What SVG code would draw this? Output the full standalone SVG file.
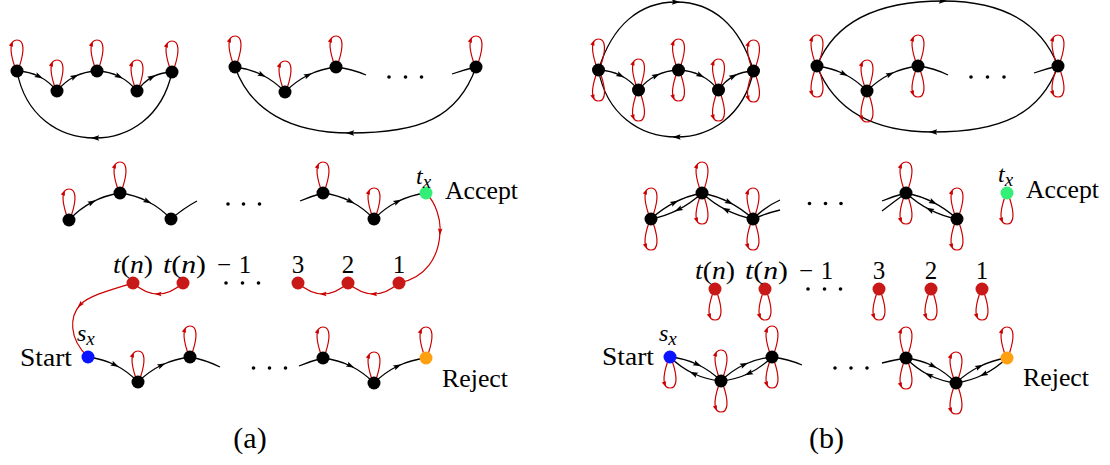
<svg xmlns="http://www.w3.org/2000/svg" xmlns:xlink="http://www.w3.org/1999/xlink" width="1110" height="465" viewBox="0 0 1110 465">
<style>
.e{fill:none;stroke:#000;stroke-width:1.3;marker-mid:url(#ab)}
.s{fill:none;stroke:#000;stroke-width:1.3}
.r{fill:none;stroke:#cc0000;stroke-width:1.2;marker-mid:url(#ar)}
.lp{fill:none;stroke:#cc0000;stroke-width:1.2}
.la{fill:#cc0000}
.n{fill:#000}
.rn{fill:#c81818}
.d{fill:#000}
text{font-family:"Liberation Serif","Times New Roman",serif;fill:#000}
.lb{font-size:26px}
.mi{font-style:italic}
.nm{font-size:25px}
.mt{font-size:24px;font-style:italic}
.sb{font-size:19px}
</style>
<defs>
<marker id="ab" viewBox="-5 -5 10 10" refX="0" refY="0" markerWidth="10" markerHeight="10" markerUnits="userSpaceOnUse" orient="auto"><path d="M-4.2,-2.7 L4.2,0 L-4.2,2.7 L-2.7,0 Z" fill="#000"/></marker>
<marker id="ar" viewBox="-5 -5 10 10" refX="0" refY="0" markerWidth="10" markerHeight="10" markerUnits="userSpaceOnUse" orient="auto"><path d="M-3.6,-2.3 L3.6,0 L-3.6,2.3 L-2.4,0 Z" fill="#cc0000"/></marker>
<g id="lu"><path class="lp" d="M-2.5,-5 C-7.5,-20 -7.5,-31 0,-31 C7.5,-31 7.5,-20 2.5,-5"/><polygon class="la" points="-4.4,-29.8 -8.2,-25.4 -4,-24.2"/></g>
<g id="ld"><use href="#lu" transform="scale(1,-1)"/></g>
</defs>

<g id="connectors">
<!-- (a) row 1 left -->
<path class="e" d="M17,71 Q29.2,71.5 39.2,76.5 Q49.2,81.5 57,91"/>
<path class="e" d="M57,91 Q64.8,81.5 74.8,76.5 Q84.8,71.5 97,71"/>
<path class="e" d="M97,71 Q109.2,71.5 119.2,76.5 Q129.2,81.5 137,91"/>
<path class="e" d="M137,91 Q143.4,81.9 152.1,77.1 Q160.9,72.4 172,72"/>
<path class="e" d="M172,72 C162,118 128,138 95,138 C58,138 25,115 17,71"/>
<!-- (a) row 1 right -->
<path class="e" d="M235,67 Q249.7,68.8 262.2,75 Q274.7,81.3 285,92"/>
<path class="e" d="M285,92 Q295.6,81.3 308.3,75 Q321,68.8 336,67"/>
<path class="s" d="M336,67 Q352,69 366,75"/>
<path class="s" d="M452,74 Q465,69.5 476,67"/>
<path class="e" d="M476,67 C458,118 420,133 350,133 C290,133 250,110 235,67"/>
<!-- (a) row 2 -->
<path class="e" d="M69,220 Q79.4,208.8 92.2,202.1 Q104.9,195.3 120,193"/>
<path class="e" d="M120,193 Q135,195 147.8,201.5 Q160.5,208 171,219"/>
<path class="s" d="M171,219 Q184,208 197,201"/>
<path class="s" d="M300,201 Q312,196 323,193"/>
<path class="e" d="M323,193 Q338,195 350.8,201.5 Q363.5,208 374,219"/>
<path class="e" d="M374,219 Q384.8,208 397.8,201.5 Q410.8,195 426,193"/>
<!-- (a) red chain -->
<path class="r" d="M426,193 C436,203 441,220 440,232 C439,258 425,278 399,283"/>
<path class="r" d="M399,283 Q386.3,294 373.5,294 Q360.8,294 348,283"/>
<path class="r" d="M348,283 Q335.5,294 323,294 Q310.5,294 298,283"/>
<path class="r" d="M183,283 Q170.5,294 158,294 Q145.5,294 133,283"/>
<path class="r" d="M133,283 C110,290 88,296 80,305 C70,316 68,338 88,357"/>
<!-- (a) bottom row -->
<path class="e" d="M88,357 Q102.7,358.8 115.2,365 Q127.7,371.3 138,382"/>
<path class="e" d="M138,382 Q148.8,371.3 161.8,365 Q174.8,358.8 190,357"/>
<path class="s" d="M190,357 Q206,360 220,367"/>
<path class="s" d="M299,366 Q311,361 323,358"/>
<path class="e" d="M323,358 Q338,359.8 350.7,366 Q363.5,372.3 374,383"/>
<path class="e" d="M374,383 Q384.8,372.3 397.8,366 Q410.8,359.8 426,358"/>
<!-- (a) loops -->
<use href="#lu" x="17" y="71"/><use href="#lu" x="57" y="91"/><use href="#lu" x="97" y="71"/><use href="#lu" x="137" y="91"/><use href="#lu" x="172" y="72"/>
<use href="#lu" x="235" y="67"/><use href="#lu" x="285" y="92"/><use href="#lu" x="336" y="67"/><use href="#lu" x="476" y="67"/>
<use href="#lu" x="69" y="220"/><use href="#lu" x="120" y="193"/><use href="#lu" x="323" y="193"/><use href="#lu" x="374" y="219"/>
<use href="#lu" x="138" y="382"/><use href="#lu" x="190" y="357"/><use href="#lu" x="323" y="358"/><use href="#lu" x="374" y="383"/><use href="#lu" x="426" y="358"/>

<!-- (b) row 1 left -->
<path class="e" d="M598.5,70 Q610.7,70.5 620.7,75.5 Q630.7,80.5 638.5,90"/>
<path class="e" d="M638.5,90 Q646.3,80.5 656.3,75.5 Q666.3,70.5 678.5,70"/>
<path class="e" d="M678.5,70 Q690.7,70.5 700.7,75.5 Q710.7,80.5 718.5,90"/>
<path class="e" d="M718.5,90 Q724.9,80.9 733.6,76.1 Q742.4,71.4 753.5,71"/>
<path class="e" d="M753.5,71 C743.5,117 709.5,137 676.5,137 C639.5,137 606.5,114 598.5,70"/>
<path class="e" d="M598.5,70 C612,25 640,2 676,2 C712,2 740,25 753.5,71"/>
<!-- (b) row 1 right -->
<path class="e" d="M817,66 Q831.7,67.8 844.2,74 Q856.7,80.3 867,91"/>
<path class="e" d="M867,91 Q877.6,80.3 890.3,74 Q903,67.8 918,66"/>
<path class="s" d="M918,66 Q934,68 948,75"/>
<path class="s" d="M1034,73 Q1047,68.5 1058,66"/>
<path class="e" d="M1058,66 C1040,115 1000,132 933,132 C870,132 833,107 817,66"/>
<path class="e" d="M817,66 C835,20 880,1 943,1 C1000,1 1040,20 1058,66"/>
<!-- (b) row 2 -->
<path class="e" d="M651,219 Q661.9,208.9 674.7,202.4 Q687.4,195.9 702,193"/>
<path class="e" d="M702,193 Q691.1,203.1 678.3,209.6 Q665.6,216.1 651,219"/>
<path class="e" d="M702,193 Q716.6,195.9 729.3,202.4 Q742.1,208.9 753,219"/>
<path class="e" d="M753,219 Q738.4,216.1 725.7,209.6 Q712.9,203.1 702,193"/>
<path class="s" d="M753,219 Q766,206 780,200"/>
<path class="s" d="M753,219 Q767,213 780,210"/>
<path class="s" d="M882,201 Q894,196 906,193"/>
<path class="s" d="M882,211 Q895,201 906,193"/>
<path class="e" d="M906,193 Q920.6,195.9 933.3,202.4 Q946.1,208.9 957,219"/>
<path class="e" d="M957,219 Q942.4,216.1 929.7,209.6 Q916.9,203.1 906,193"/>
<!-- (b) bottom row -->
<path class="e" d="M670,357 Q684.9,358.5 697.6,364.5 Q710.4,370.5 721,381"/>
<path class="e" d="M721,381 Q706.1,379.5 693.4,373.5 Q680.6,367.5 670,357"/>
<path class="e" d="M721,381 Q731.6,370.5 744.4,364.5 Q757.1,358.5 772,357"/>
<path class="e" d="M772,357 Q761.4,367.5 748.6,373.5 Q735.9,379.5 721,381"/>
<path class="s" d="M772,357 Q788,359 802,365"/>
<path class="s" d="M882,363 Q894,360 906,358"/>
<path class="e" d="M906,358 Q920.7,359.8 933.2,366 Q945.7,372.3 956,383"/>
<path class="e" d="M956,383 Q941.3,381.2 928.8,375 Q916.3,368.7 906,358"/>
<path class="e" d="M956,383 Q966.8,372.7 979.5,366.5 Q992.3,360.2 1007,358"/>
<path class="e" d="M1007,358 Q996.2,368.3 983.5,374.5 Q970.7,380.8 956,383"/>
<!-- (b) loops -->
<use href="#lu" x="598.5" y="70"/><use href="#ld" x="598.5" y="70"/>
<use href="#lu" x="638.5" y="90"/><use href="#ld" x="638.5" y="90"/>
<use href="#lu" x="678.5" y="70"/><use href="#ld" x="678.5" y="70"/>
<use href="#lu" x="718.5" y="90"/><use href="#ld" x="718.5" y="90"/>
<use href="#lu" x="753.5" y="71"/><use href="#ld" x="753.5" y="71"/>
<use href="#lu" x="817" y="66"/><use href="#ld" x="817" y="66"/>
<use href="#lu" x="867" y="91"/><use href="#ld" x="867" y="91"/>
<use href="#lu" x="918" y="66"/><use href="#ld" x="918" y="66"/>
<use href="#lu" x="1058" y="66"/><use href="#ld" x="1058" y="66"/>
<use href="#lu" x="651" y="219"/><use href="#ld" x="651" y="219"/>
<use href="#lu" x="702" y="193"/><use href="#ld" x="702" y="193"/>
<use href="#lu" x="753" y="219"/><use href="#ld" x="753" y="219"/>
<use href="#lu" x="906" y="193"/><use href="#ld" x="906" y="193"/>
<use href="#lu" x="957" y="219"/><use href="#ld" x="957" y="219"/>
<use href="#ld" x="1007" y="193"/>
<use href="#ld" x="715" y="289"/><use href="#ld" x="765" y="289"/><use href="#ld" x="879" y="289"/><use href="#ld" x="931" y="289"/><use href="#ld" x="982" y="289"/>
<use href="#ld" x="670" y="357"/>
<use href="#lu" x="721" y="381"/><use href="#ld" x="721" y="381"/>
<use href="#lu" x="772" y="357"/><use href="#ld" x="772" y="357"/>
<use href="#lu" x="906" y="358"/><use href="#ld" x="906" y="358"/>
<use href="#lu" x="956" y="383"/><use href="#ld" x="956" y="383"/>
<use href="#lu" x="1007" y="358"/>
</g>

<!-- panel (a) nodes -->
<g id="a-r1-n1"><circle class="n" cx="17" cy="71" r="6.5"/></g>
<g id="a-r1-n2"><circle class="n" cx="57" cy="91" r="6.5"/></g>
<g id="a-r1-n3"><circle class="n" cx="97" cy="71" r="6.5"/></g>
<g id="a-r1-n4"><circle class="n" cx="137" cy="91" r="6.5"/></g>
<g id="a-r1-n5"><circle class="n" cx="172" cy="72" r="6.5"/></g>
<g id="a-r1-m1"><circle class="n" cx="235" cy="67" r="6.5"/></g>
<g id="a-r1-m2"><circle class="n" cx="285" cy="92" r="6.5"/></g>
<g id="a-r1-m3"><circle class="n" cx="336" cy="67" r="6.5"/></g>
<g id="a-r1-m4"><circle class="n" cx="476" cy="67" r="6.5"/></g>
<g id="a-r1-dots"><circle class="d" cx="389" cy="77" r="1.8"/><circle class="d" cx="405.5" cy="77" r="1.8"/><circle class="d" cx="421.5" cy="77" r="1.8"/></g>
<g id="a-r2-n1"><circle class="n" cx="69" cy="220" r="6.5"/></g>
<g id="a-r2-n2"><circle class="n" cx="120" cy="193" r="6.5"/></g>
<g id="a-r2-n3"><circle class="n" cx="171" cy="219" r="6.5"/></g>
<g id="a-r2-n4"><circle class="n" cx="323" cy="193" r="6.5"/></g>
<g id="a-r2-n5"><circle class="n" cx="374" cy="219" r="6.5"/></g>
<g id="a-r2-dots"><circle class="d" cx="228" cy="204" r="1.8"/><circle class="d" cx="243.5" cy="204" r="1.8"/><circle class="d" cx="259.5" cy="204" r="1.8"/></g>
<g id="a-accept"><circle cx="426" cy="193" r="6.5" fill="#33ee77"/>
<text x="416" y="184" class="mt">t<tspan class="sb" dy="4">x</tspan></text>
<text x="445" y="199" class="lb" textLength="73" lengthAdjust="spacingAndGlyphs">Accept</text></g>
<g id="a-red-tn"><circle class="rn" cx="133" cy="283" r="6.5"/><text x="113" y="273" class="nm" textLength="40" lengthAdjust="spacingAndGlyphs"><tspan class="mi">t</tspan>(<tspan class="mi">n</tspan>)</text></g>
<g id="a-red-tn1"><circle class="rn" cx="183" cy="283" r="6.5"/><text x="163" y="273" class="nm" textLength="43" lengthAdjust="spacingAndGlyphs"><tspan class="mi">t</tspan>(<tspan class="mi">n</tspan>)</text><text x="224" y="273" class="nm" text-anchor="middle">−</text><text x="245" y="273" class="nm" text-anchor="middle">1</text></g>
<g id="a-red-dots"><circle class="d" cx="226" cy="283" r="1.8"/><circle class="d" cx="242.5" cy="283" r="1.8"/><circle class="d" cx="258.5" cy="283" r="1.8"/></g>
<g id="a-red-3"><circle class="rn" cx="298" cy="283" r="6.5"/><text x="298" y="273" class="nm" text-anchor="middle">3</text></g>
<g id="a-red-2"><circle class="rn" cx="348" cy="283" r="6.5"/><text x="348" y="273" class="nm" text-anchor="middle">2</text></g>
<g id="a-red-1"><circle class="rn" cx="399" cy="283" r="6.5"/><text x="399" y="273" class="nm" text-anchor="middle">1</text></g>
<g id="a-start"><circle cx="88" cy="357" r="6.5" fill="#0a14ff"/>
<text x="77" y="341" class="mt">s<tspan class="sb" dy="4">x</tspan></text>
<text x="20" y="366" class="lb" textLength="52" lengthAdjust="spacingAndGlyphs">Start</text></g>
<g id="a-r4-n1"><circle class="n" cx="138" cy="382" r="6.5"/></g>
<g id="a-r4-n2"><circle class="n" cx="190" cy="357" r="6.5"/></g>
<g id="a-r4-dots"><circle class="d" cx="253.5" cy="368" r="1.8"/><circle class="d" cx="269.5" cy="368" r="1.8"/><circle class="d" cx="285.5" cy="368" r="1.8"/></g>
<g id="a-r4-n3"><circle class="n" cx="323" cy="358" r="6.5"/></g>
<g id="a-r4-n4"><circle class="n" cx="374" cy="383" r="6.5"/></g>
<g id="a-reject"><circle cx="426" cy="358" r="6.5" fill="#ffa010"/>
<text x="442" y="387" class="lb" textLength="66" lengthAdjust="spacingAndGlyphs">Reject</text></g>
<g id="a-caption"><text x="250" y="448" font-size="30" text-anchor="middle">(a)</text></g>

<!-- panel (b) nodes -->
<g id="b-r1-n1"><circle class="n" cx="598.5" cy="70" r="6.5"/></g>
<g id="b-r1-n2"><circle class="n" cx="638.5" cy="90" r="6.5"/></g>
<g id="b-r1-n3"><circle class="n" cx="678.5" cy="70" r="6.5"/></g>
<g id="b-r1-n4"><circle class="n" cx="718.5" cy="90" r="6.5"/></g>
<g id="b-r1-n5"><circle class="n" cx="753.5" cy="71" r="6.5"/></g>
<g id="b-r1-m1"><circle class="n" cx="817" cy="66" r="6.5"/></g>
<g id="b-r1-m2"><circle class="n" cx="867" cy="91" r="6.5"/></g>
<g id="b-r1-m3"><circle class="n" cx="918" cy="66" r="6.5"/></g>
<g id="b-r1-m4"><circle class="n" cx="1058" cy="66" r="6.5"/></g>
<g id="b-r1-dots"><circle class="d" cx="971" cy="77" r="1.8"/><circle class="d" cx="987.5" cy="77" r="1.8"/><circle class="d" cx="1004" cy="77" r="1.8"/></g>
<g id="b-r2-n1"><circle class="n" cx="651" cy="219" r="6.5"/></g>
<g id="b-r2-n2"><circle class="n" cx="702" cy="193" r="6.5"/></g>
<g id="b-r2-n3"><circle class="n" cx="753" cy="219" r="6.5"/></g>
<g id="b-r2-n4"><circle class="n" cx="906" cy="193" r="6.5"/></g>
<g id="b-r2-n5"><circle class="n" cx="957" cy="219" r="6.5"/></g>
<g id="b-r2-dots"><circle class="d" cx="809.5" cy="203.5" r="1.8"/><circle class="d" cx="825.5" cy="203.5" r="1.8"/><circle class="d" cx="841" cy="203.5" r="1.8"/></g>
<g id="b-accept"><circle cx="1007" cy="193" r="6.5" fill="#33ee77"/>
<text x="998" y="182" class="mt">t<tspan class="sb" dy="4">x</tspan></text>
<text x="1026" y="198" class="lb" textLength="73" lengthAdjust="spacingAndGlyphs">Accept</text></g>
<g id="b-red-tn"><circle class="rn" cx="715" cy="289" r="6.5"/><text x="695" y="279" class="nm" textLength="40" lengthAdjust="spacingAndGlyphs"><tspan class="mi">t</tspan>(<tspan class="mi">n</tspan>)</text></g>
<g id="b-red-tn1"><circle class="rn" cx="765" cy="289" r="6.5"/><text x="745" y="279" class="nm" textLength="43" lengthAdjust="spacingAndGlyphs"><tspan class="mi">t</tspan>(<tspan class="mi">n</tspan>)</text><text x="806" y="279" class="nm" text-anchor="middle">−</text><text x="827" y="279" class="nm" text-anchor="middle">1</text></g>
<g id="b-red-dots"><circle class="d" cx="808" cy="289" r="1.8"/><circle class="d" cx="824.5" cy="289" r="1.8"/><circle class="d" cx="840.5" cy="289" r="1.8"/></g>
<g id="b-red-3"><circle class="rn" cx="879" cy="289" r="6.5"/><text x="879" y="279" class="nm" text-anchor="middle">3</text></g>
<g id="b-red-2"><circle class="rn" cx="931" cy="289" r="6.5"/><text x="931" y="279" class="nm" text-anchor="middle">2</text></g>
<g id="b-red-1"><circle class="rn" cx="982" cy="289" r="6.5"/><text x="982" y="279" class="nm" text-anchor="middle">1</text></g>
<g id="b-start"><circle cx="670" cy="357" r="6.5" fill="#0a14ff"/>
<text x="659" y="341" class="mt">s<tspan class="sb" dy="4">x</tspan></text>
<text x="602" y="365" class="lb" textLength="52" lengthAdjust="spacingAndGlyphs">Start</text></g>
<g id="b-r4-n1"><circle class="n" cx="721" cy="381" r="6.5"/></g>
<g id="b-r4-n2"><circle class="n" cx="772" cy="357" r="6.5"/></g>
<g id="b-r4-dots"><circle class="d" cx="835" cy="368" r="1.8"/><circle class="d" cx="851" cy="368" r="1.8"/><circle class="d" cx="867" cy="368" r="1.8"/></g>
<g id="b-r4-n3"><circle class="n" cx="906" cy="358" r="6.5"/></g>
<g id="b-r4-n4"><circle class="n" cx="956" cy="383" r="6.5"/></g>
<g id="b-reject"><circle cx="1007" cy="358" r="6.5" fill="#ffa010"/>
<text x="1023" y="386" class="lb" textLength="66" lengthAdjust="spacingAndGlyphs">Reject</text></g>
<g id="b-caption"><text x="826.5" y="448" font-size="30" text-anchor="middle">(b)</text></g>
</svg>
